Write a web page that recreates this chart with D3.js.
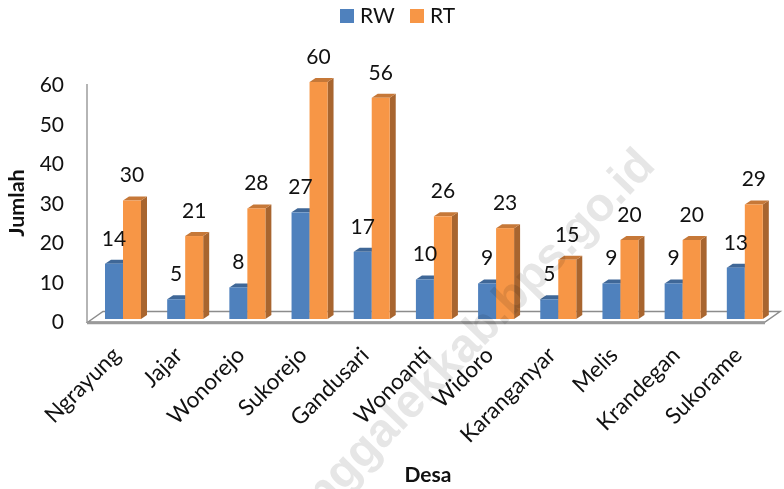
<!DOCTYPE html>
<html>
<head>
<meta charset="utf-8">
<script src="https://cdn.jsdelivr.net/npm/d3@7"></script>
<style>
  html, body { margin: 0; background: #fff; }
  text { font-family: Lato, sans-serif; fill: #111; }
</style>
</head>
<body>
<svg id="chart" width="784" height="489"></svg>
<script>
const categories = ['Ngrayung', 'Jajar', 'Wonorejo', 'Sukorejo', 'Gandusari', 'Wonoanti', 'Widoro', 'Karanganyar', 'Melis', 'Krandegan', 'Sukorame']
    , rwValues = [14, 5, 8, 27, 17, 10, 9, 5, 9, 9, 13]
    , rtValues = [30, 21, 28, 60, 56, 26, 23, 15, 20, 20, 29]
    , yTicks = [0, 10, 20, 30, 40, 50, 60]
    ;

const seriesList = [
  { name: 'RW', values: rwValues, front: '#4f81bd', top: '#3f6797', side: '#3a5f8c' },
  { name: 'RT', values: rtValues, front: '#f79646', top: '#c67838', side: '#a8652f' }
];

const depthX = 6
    , depthY = 4
    , svg = d3.select('#chart')
    , x = d3.scaleBand().domain(categories).range([91, 775]).padding(0)
    , xInner = d3.scaleBand().domain(['RW', 'RT']).range([14, 50])
    , y = d3.scaleLinear().domain([0, 60]).range([319, 82])
    ;

// left wall and floor of the 3d box
const wall = svg.append('g').attr('fill', 'none');
wall.append('path')
    .attr('d', 'M87,84V323')
    .attr('stroke', '#b5b5b5').attr('stroke-width', 2);
wall.append('path')
    .attr('d', 'M88,322L103,311.5H780L765,322Z')
    .attr('fill', '#fff').attr('stroke', '#8c8c8c').attr('stroke-width', 1.5);
wall.append('path')
    .attr('d', 'M87,323H765')
    .attr('stroke', '#9a9a9a').attr('stroke-width', 2.5);

const groups = svg.append('g')
  .selectAll('g')
  .data(categories)
  .join('g')
    .attr('transform', d => `translate(${x(d)},0)`);

// RW first so the RT bar covers its side face
seriesList.forEach((s) => {
  const bw = xInner.bandwidth()
      , bar = groups.append('g').datum((d, i) => s.values[i])
      , bx = xInner(s.name)
      ;

  bar.append('path')
      .attr('fill', s.side)
      .attr('d', d => `M${bx + bw},${y(d)}l${depthX},${-depthY}V${y(0) - depthY}l${-depthX},${depthY}Z`);
  bar.append('path')
      .attr('fill', s.top)
      .attr('d', d => `M${bx},${y(d)}l${depthX},${-depthY}h${bw}l${-depthX},${depthY}Z`);
  bar.append('rect')
      .attr('fill', s.front)
      .attr('x', bx)
      .attr('y', d => y(d))
      .attr('width', bw)
      .attr('height', d => y(0) - y(d));
});

// labels in a second pass, the RW ones overlap the RT bars
seriesList.forEach((s) => {
  groups.append('text')
      .datum((d, i) => s.values[i])
      .attr('x', xInner(s.name) + xInner.bandwidth() / 2)
      .attr('y', d => y(d) - 25.5)
      .attr('dy', '0.35em')
      .attr('text-anchor', 'middle')
      .attr('font-size', 21)
      .text(d => d);
});

// y axis
const yAxis = svg.append('g')
    .attr('transform', 'translate(64,3)')
    .call(d3.axisLeft(y).tickValues(yTicks).tickSize(0).tickPadding(0));
yAxis.select('.domain').remove();
yAxis.selectAll('text')
    .attr('font-size', 21)
    .attr('text-anchor', 'end')
    .style('font-family', 'Lato, sans-serif')
    .style('fill', '#111');

// x axis, labels turned 45 degrees
const xAxis = svg.append('g')
    .attr('transform', 'translate(0,340)')
    .call(d3.axisBottom(x).tickSize(0).tickPadding(0));
xAxis.select('.domain').remove();
xAxis.selectAll('text')
    .attr('font-size', 22.5)
    .attr('text-anchor', 'end')
    .attr('dy', '0.35em')
    .attr('y', 0)
    .attr('transform', 'translate(-6,11) rotate(-45)')
    .style('font-family', 'Lato, sans-serif')
    .style('fill', '#111');

// axis titles
svg.append('text')
    .attr('transform', 'translate(16,203) rotate(-90)')
    .attr('text-anchor', 'middle')
    .attr('dy', '0.35em')
    .attr('font-size', 21.5)
    .attr('font-weight', 700)
    .text('Jumlah');
svg.append('text')
    .attr('x', 428)
    .attr('y', 475)
    .attr('dy', '0.35em')
    .attr('text-anchor', 'middle')
    .attr('font-size', 21)
    .attr('font-weight', 700)
    .text('Desa');

// legend
const legendX = d3.scaleOrdinal().domain(['RW', 'RT']).range([340, 410]);
const legend = svg.append('g')
  .selectAll('g')
  .data(seriesList)
  .join('g')
    .attr('transform', d => `translate(${legendX(d.name)},9)`);
legend.append('rect')
    .attr('width', 14)
    .attr('height', 14)
    .attr('fill', d => d.front);
legend.append('text')
    .attr('x', 20)
    .attr('y', 7)
    .attr('dy', '0.35em')
    .attr('font-size', 21)
    .text(d => d.name);

// watermark lies over the chart, multiplied so marks still show through
svg.append('text')
    .attr('transform', 'translate(657,167) rotate(-46)')
    .attr('text-anchor', 'end')
    .attr('font-size', 47)
    .attr('font-weight', 700)
    .style('font-family', '"Liberation Sans", sans-serif')
    .style('fill', '#e6e6e6')
    .style('mix-blend-mode', 'multiply')
    .text('trenggalekkab.bps.go.id');
</script>
</body>
</html>
